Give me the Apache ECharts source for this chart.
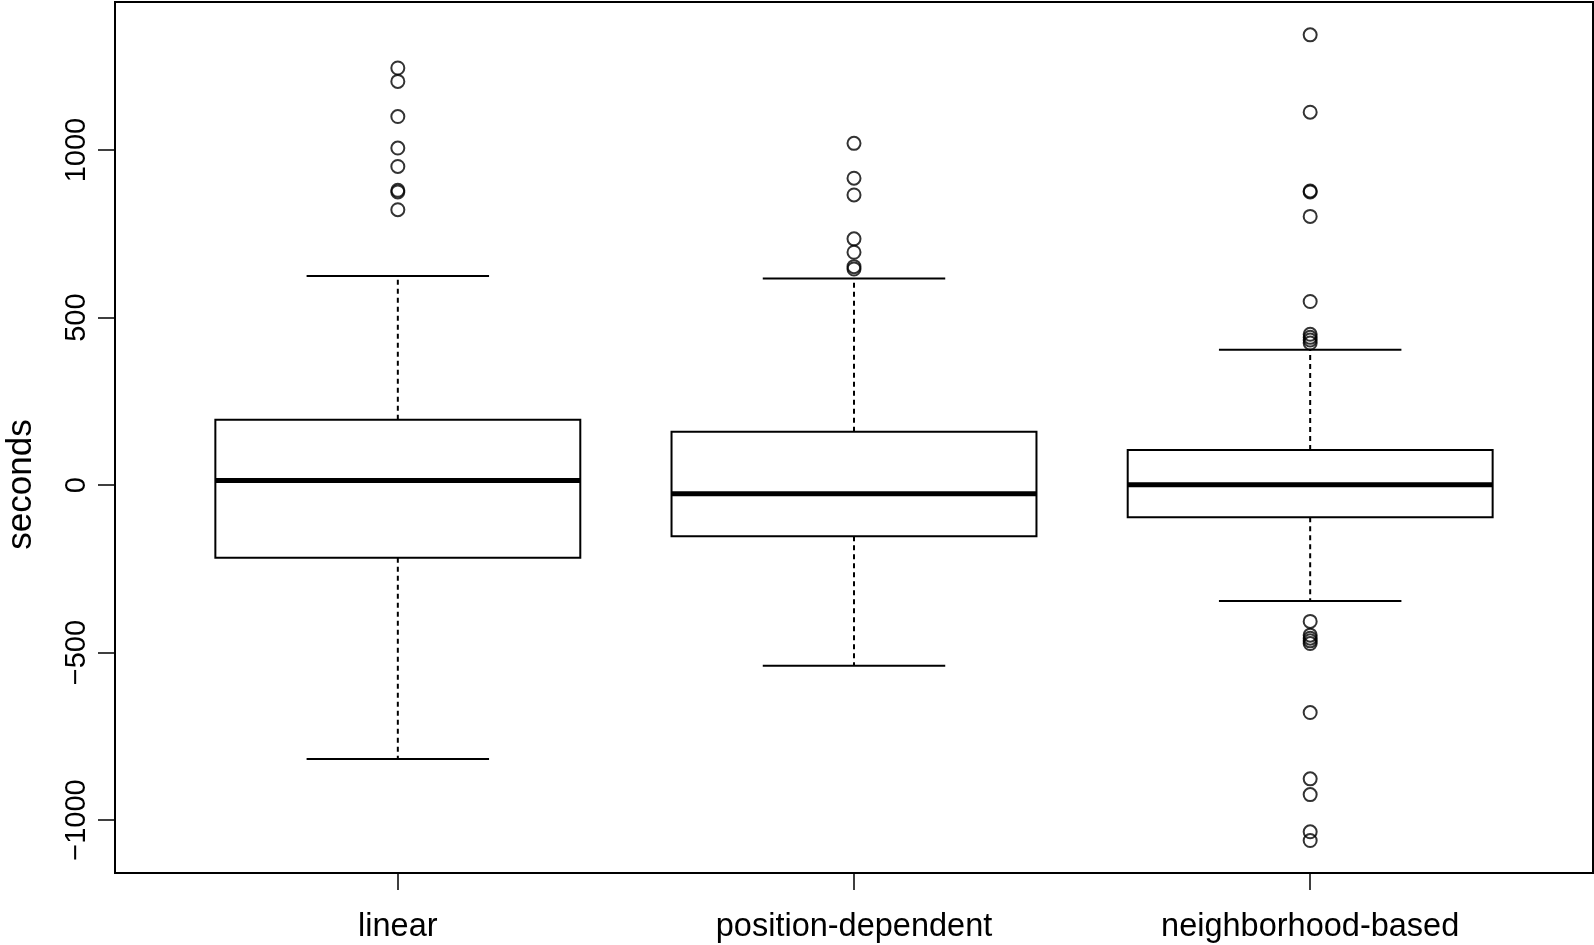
<!DOCTYPE html>
<html>
<head>
<meta charset="utf-8">
<script src="https://cdn.jsdelivr.net/npm/echarts@6/dist/echarts.min.js"></script>
<style>
  html, body { margin: 0; padding: 0; background: #fff; }
  #chart { width: 1594px; height: 945px; }
</style>
</head>
<body>
<div id="chart"></div>
<script>
// categories and box statistics (seconds)
const categories = ['linear', 'position-dependent', 'neighborhood-based']
const lowerWhisker = [-818, -539, -346]
const q1 = [-217, -153, -96]
const median = [14, -26, 1]
const q3 = [195, 159, 105]
const upperWhisker = [624, 617, 404]

// outliers per group
const outLinear = [1245, 1205, 1100, 1006, 951, 880, 875, 822]
const outPosition = [1020, 916, 866, 735, 695, 652, 645]
const outNeighborhood = [1344, 1113, 878, 875, 802, 548, 450, 441, 433, 424,
  -407, -448, -457, -465, -473, -679, -877, -924, -1035, -1061]

const yTicks = [-1000, -500, 0, 500, 1000]
const xTicks = [1, 2, 3]

const boxData = categories.map((c, i) =>
  [i + 1, lowerWhisker[i], q1[i], median[i], q3[i], upperWhisker[i]])

const outlierData = []
;[outLinear, outPosition, outNeighborhood].forEach((arr, i) => {
  arr.forEach(v => outlierData.push([i + 1, v]))
})

const font = 'Liberation Sans, Arial, sans-serif'

// R-style box: dashed whiskers, half-width staples, thick median
const renderBox = (params, api) => {
  const x = api.value(0)
  const pMin = api.coord([x, api.value(1)])
  const pQ1 = api.coord([x, api.value(2)])
  const pMed = api.coord([x, api.value(3)])
  const pQ3 = api.coord([x, api.value(4)])
  const pMax = api.coord([x, api.value(5)])
  const half = api.size([0.8, 0])[0] / 2
  const cx = pMed[0]
  const thin = { stroke: '#000', lineWidth: 2 }
  const dashed = { stroke: '#000', lineWidth: 2, lineDash: [5, 4] }
  return {
    type: 'group',
    children: [
      { type: 'line', shape: { x1: cx, y1: pQ3[1], x2: cx, y2: pMax[1] }, style: dashed },
      { type: 'line', shape: { x1: cx, y1: pQ1[1], x2: cx, y2: pMin[1] }, style: dashed },
      { type: 'line', shape: { x1: cx - half / 2, y1: pMax[1], x2: cx + half / 2, y2: pMax[1] }, style: thin },
      { type: 'line', shape: { x1: cx - half / 2, y1: pMin[1], x2: cx + half / 2, y2: pMin[1] }, style: thin },
      {
        type: 'rect',
        shape: { x: cx - half, y: pQ3[1], width: half * 2, height: pQ1[1] - pQ3[1] },
        style: { fill: '#fff', stroke: '#000', lineWidth: 2 }
      },
      { type: 'line', shape: { x1: cx - half, y1: pMed[1], x2: cx + half, y2: pMed[1] }, style: { stroke: '#000', lineWidth: 5 } }
    ]
  }
}

const chart = echarts.init(document.getElementById('chart'))

const option = {
  animation: false,
  backgroundColor: '#fff',
  grid: {
    left: 115,
    right: 1,
    top: 2,
    bottom: 72,
    outerBoundsMode: 'none',
    show: true,
    borderColor: '#000',
    borderWidth: 2,
    backgroundColor: 'transparent'
  },
  xAxis: {
    type: 'value',
    min: 0.38,
    max: 3.62,
    axisLine: { show: false, onZero: false },
    splitLine: { show: false },
    axisTick: {
      show: true,
      length: 17,
      customValues: xTicks,
      lineStyle: { color: '#000', width: 1.5 }
    },
    axisLabel: {
      customValues: xTicks,
      margin: 38,
      color: '#000',
      fontFamily: font,
      fontSize: 32.5,
      formatter: v => categories[Math.round(v) - 1]
    }
  },
  yAxis: {
    type: 'value',
    min: -1158,
    max: 1442,
    name: 'seconds',
    nameLocation: 'middle',
    nameRotate: 90,
    nameGap: 76,
    nameTextStyle: {
      color: '#000',
      fontFamily: font,
      fontSize: 35,
      padding: [0, 94, 0, 0]
    },
    axisLine: { show: false, onZero: false },
    splitLine: { show: false },
    axisTick: {
      show: true,
      length: 17,
      customValues: yTicks,
      lineStyle: { color: '#000', width: 1.5 }
    },
    axisLabel: {
      customValues: yTicks,
      rotate: 90,
      margin: 24,
      color: '#000',
      fontFamily: font,
      fontSize: 29,
      formatter: v => (v < 0 ? '\u2212' + Math.abs(v) : String(v))
    }
  },
  series: [
    {
      type: 'custom',
      renderItem: renderBox,
      data: boxData,
      encode: { x: 0, y: [1, 2, 3, 4, 5] },
      z: 2
    },
    {
      type: 'scatter',
      data: outlierData,
      symbol: 'circle',
      symbolSize: 13,
      itemStyle: { color: 'rgba(0,0,0,0)', borderColor: '#000', borderWidth: 2 },
      z: 3
    }
  ]
}

chart.setOption(option)
</script>
</body>
</html>
